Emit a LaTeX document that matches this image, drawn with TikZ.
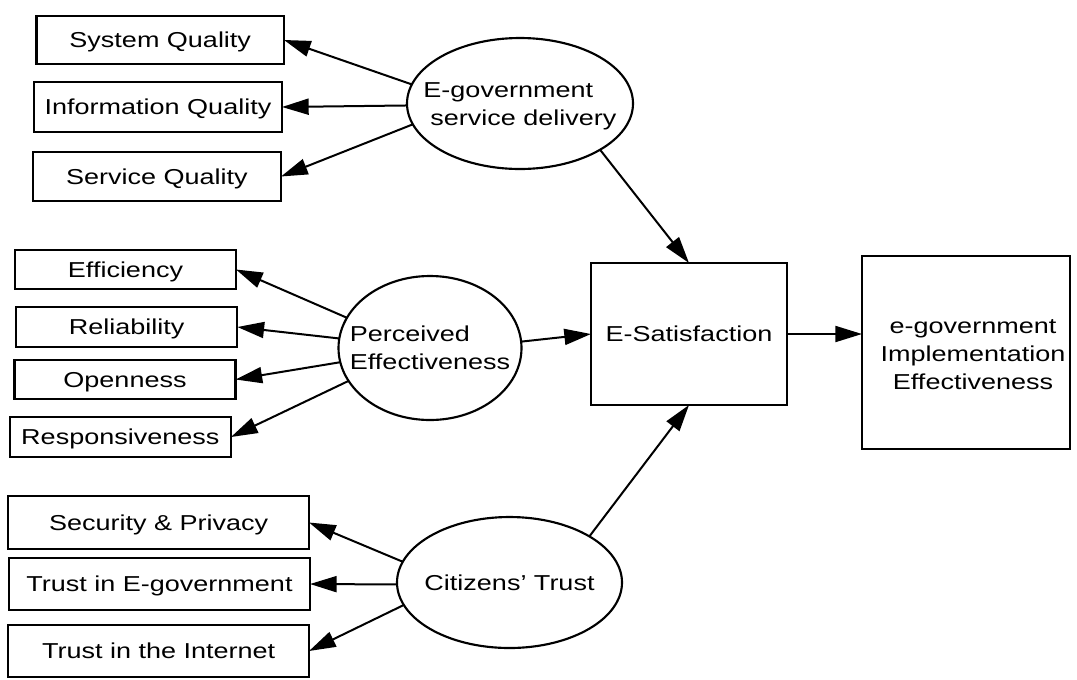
\documentclass[tikz,border=0pt]{standalone}
\usepackage{fontspec}
\setmainfont{Liberation Sans}[FakeStretch=1.25]
\usetikzlibrary{arrows.meta, shapes.geometric}
\begin{document}
\begin{tikzpicture}[x=0.75pt, y=-0.75pt,
  every node/.style={font=\fontsize{16.2}{21}\selectfont, inner sep=0pt, outer sep=0pt},
  box/.style={draw, line width=1.6pt, rectangle, text height=11.6pt, text depth=0pt},
  oval/.style={draw, line width=1.6pt, ellipse},
  oneline/.style={text height=11.6pt, text depth=0pt},
  twoline/.style={text height=32.6pt, text depth=0pt},
  threeline/.style={text height=53.6pt, text depth=0pt},
  link/.style={line width=1.5pt, -{Triangle[length=20pt,width=12pt]}}]
\useasboundingbox (0,0) rectangle (1077,679);

% top group
\node[box, minimum width=185.6pt, minimum height=36pt] (sysq) at (160.25,40) {System Quality};
\node[box, minimum width=186pt, minimum height=37.5pt] (infq) at (158,107) {Information Quality};
\node[box, minimum width=186pt, minimum height=36.75pt] (svcq) at (157,176.5) {Service Quality};
\node[oval, minimum width=169.5pt, minimum height=98.25pt] (sd) at (520,103.5) {};
\node[align=left, twoline] (sdt) at (sd.center) {E-government\\\hspace*{5.25pt}service delivery};

% middle group
\node[box, minimum width=165.75pt, minimum height=29.25pt] (eff) at (125.5,269.5) {Efficiency};
\node[box, minimum width=166pt, minimum height=30pt] (rel) at (126.75,327) {Reliability};
\node[box, minimum width=165.75pt, minimum height=29.25pt] (open) at (125,379.5) {Openness};
\node[box, minimum width=166pt, minimum height=30pt] (resp) at (120.3,437) {Responsiveness};
\node[oval, minimum width=137.25pt, minimum height=108pt] (pe) at (430,348) {};
\node[align=left, twoline] (pet) at (pe.center) {Perceived\\Effectiveness};

% bottom group
\node[box, minimum width=225.5pt, minimum height=39.75pt] (sec) at (158.7,522.5) {Security \& Privacy};
\node[box, minimum width=225.75pt, minimum height=39pt] (tre) at (159.5,584) {Trust in E-government};
\node[box, minimum width=225.5pt, minimum height=39pt] (tri) at (158.7,651) {Trust in the Internet};
\node[oval, minimum width=168.75pt, minimum height=98.25pt] (ct) at (509.5,582.5) {};
\node[oneline] (ctt) at (ct.center) {Citizens’ Trust};

% right
\node[box, minimum width=147pt, minimum height=106.5pt] (esat) at (689,334) {E-Satisfaction};
\node[box, minimum width=156pt, minimum height=144.75pt] (eie) at (966,352.5) {};
\node[align=center, threeline] (eiet) at (973,354) {e-government\\Implementation\\Effectiveness};

% connectors
\draw[link] (sd.170) -- (sysq.east);
\draw[link] (sd.181) -- (infq.east);
\draw[link] (sd.191) -- (svcq.east);
\draw[link] (sd.330) -- (esat.north);
\draw[link] (pe.160) -- (eff.east);
\draw[link] (pe.174) -- (rel.east);
\draw[link] (pe.189) -- (open.east);
\draw[link] (pe.202) -- (resp.east);
\draw[link] (pe.4) -- (esat.west);
\draw[link] (ct.169) -- (sec.east);
\draw[link] (ct.181) -- (tre.east);
\draw[link] (ct.192) -- (tri.east);
\draw[link] (ct.30) -- (esat.south);
\draw[link] (esat.east) -- (esat.east -| eie.west);
\end{tikzpicture}
\end{document}
